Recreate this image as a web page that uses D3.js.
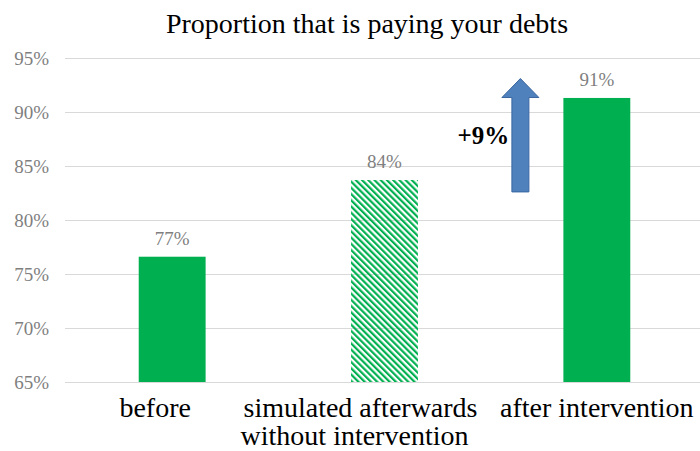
<!DOCTYPE html>
<html>
<head>
<meta charset="utf-8">
<script src="https://cdn.jsdelivr.net/npm/d3@7"></script>
<style>
  body { margin: 0; background: #fff; }
  svg text { font-family: "Liberation Serif", "Times New Roman", serif; }
</style>
</head>
<body>
<div id="chart"></div>
<script>
// Data
var categories = ['before', 'simulated afterwards\nwithout intervention', 'after intervention'];
var values = [76.6, 83.7, 91.3];
var valueLabels = ['77%', '84%', '91%'];
var hatched = [false, true, false];
var yTicks = [65, 70, 75, 80, 85, 90, 95];
var arrowFrom = 82.6, arrowTo = 93.1, arrowLabel = '+9%';

var width = 700, height = 451;
var green = '#00B050';
var serif = 'Liberation Serif, Times New Roman, serif';

var svg = d3.select('#chart')
  .append('svg')
  .attr('width', width)
  .attr('height', height)
  .attr('font-family', serif);

// Hatch pattern
svg.append('defs').append('pattern')
  .attr('id', 'hatch')
  .attr('patternUnits', 'userSpaceOnUse')
  .attr('width', 4.4)
  .attr('height', 4.4)
  .attr('patternTransform', 'rotate(-45)')
  .append('rect')
  .attr('width', 2.2)
  .attr('height', 4.4)
  .attr('fill', green);

// Scales
var xScale = d3.scaleBand()
  .domain(categories)
  .range([66, 703])
  .paddingInner(0.685)
  .paddingOuter(0.3425);

var yScale = d3.scaleLinear()
  .domain([65, 95])
  .range([382, 58]);

// Title
svg.append('text')
  .attr('x', 367)
  .attr('y', 33)
  .attr('text-anchor', 'middle')
  .attr('font-size', 28)
  .attr('fill', '#000')
  .text('Proportion that is paying your debts');

// Y axis with gridlines
var yAxis = d3.axisLeft(yScale)
  .tickValues(yTicks)
  .tickSize(-(700 - 65))
  .tickPadding(16)
  .tickFormat(function(d) { return d + '%'; });

var yG = svg.append('g')
  .attr('transform', 'translate(65,0)')
  .call(yAxis)
  .attr('font-family', serif)
  .attr('font-size', 19);
yG.select('.domain').remove();
yG.selectAll('line').attr('stroke', '#d9d9d9').attr('stroke-width', 1);
yG.selectAll('text').attr('fill', '#7f7f7f');

// Bars
svg.selectAll('.bar')
  .data(values)
  .enter().append('rect')
  .attr('class', 'bar')
  .attr('x', function(d, i) { return xScale(categories[i]); })
  .attr('width', xScale.bandwidth())
  .attr('y', function(d) { return yScale(d); })
  .attr('height', function(d) { return yScale(65) - yScale(d); })
  .attr('fill', function(d, i) { return hatched[i] ? 'url(#hatch)' : green; });

// Value labels
svg.selectAll('.val')
  .data(values)
  .enter().append('text')
  .attr('class', 'val')
  .attr('x', function(d, i) { return xScale(categories[i]) + xScale.bandwidth() / 2; })
  .attr('y', function(d) { return yScale(d) - 12; })
  .attr('text-anchor', 'middle')
  .attr('fill', '#7f7f7f')
  .attr('font-size', 19)
  .text(function(d, i) { return valueLabels[i]; });

// Category labels
var labelShift = [[-17], [-24, -30], [0]];
var xAxis = d3.axisBottom(xScale).tickSize(0).tickFormat('');
var xG = svg.append('g')
  .attr('transform', 'translate(0,' + yScale(65) + ')')
  .call(xAxis)
  .attr('font-family', serif);
xG.select('.domain').remove();
xG.selectAll('.tick').each(function(d, i) {
  var lines = d.split('\n');
  var t = d3.select(this).append('text')
    .attr('text-anchor', 'middle')
    .attr('fill', '#000')
    .attr('font-size', 28);
  lines.forEach(function(line, j) {
    t.append('tspan')
      .attr('x', labelShift[i][j])
      .attr('y', 35 + j * 28)
      .text(line);
  });
});

// Arrow annotation
var ax = xScale('after intervention') - 43;
var shaftW = 17, headW = 37, headH = 19;
var yTop = yScale(arrowTo), yBot = yScale(arrowFrom);
var arrowPts = [
  [ax - shaftW / 2, yBot],
  [ax - shaftW / 2, yTop + headH],
  [ax - headW / 2, yTop + headH],
  [ax, yTop],
  [ax + headW / 2, yTop + headH],
  [ax + shaftW / 2, yTop + headH],
  [ax + shaftW / 2, yBot]
];
svg.append('path')
  .attr('d', d3.line()(arrowPts) + 'Z')
  .attr('fill', '#4F81BD')
  .attr('stroke', '#3A66A0')
  .attr('stroke-width', 1);

svg.append('text')
  .attr('x', ax - 63)
  .attr('y', yScale(arrowFrom) - 48)
  .attr('font-size', 25)
  .attr('font-weight', 'bold')
  .attr('fill', '#000')
  .text(arrowLabel);
</script>
</body>
</html>
